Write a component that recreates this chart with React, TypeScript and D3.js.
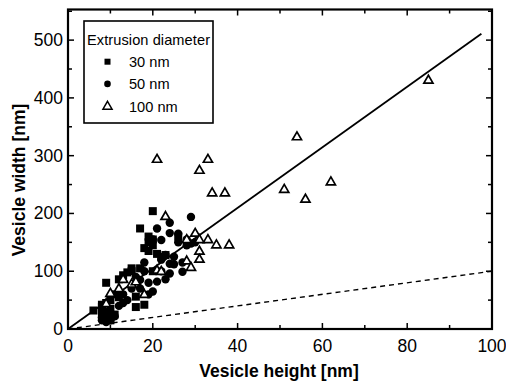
import React, { useEffect, useRef } from 'react'
import * as d3 from 'd3'

// 30 nm extrusion [height, width]
const squares30: [number, number][] = [
  [6, 32], [8, 25], [8, 38], [8, 42], [9, 20], [9, 30], [9, 45], [9, 80], [10, 35], [10, 50],
  [10, 15], [11, 25], [11, 60], [12, 86], [12, 55], [13, 93], [14, 98], [15, 100], [15, 105],
  [16, 56], [16, 38], [17, 105], [17, 174], [18, 42], [18, 140], [19, 150], [19, 135], [19, 160],
  [20, 204], [20, 145], [20, 155], [20, 100], [21, 130], [22, 125], [23, 128], [26, 160],
]

// 50 nm extrusion
const circles50: [number, number][] = [
  [8, 15], [8, 20], [9, 12], [9, 25], [10, 15], [10, 28], [11, 22], [12, 40], [13, 45], [13, 60],
  [14, 50], [15, 70], [16, 90], [17, 70], [17, 85], [18, 115], [18, 100], [19, 60], [19, 80],
  [20, 65], [20, 155], [21, 82], [21, 174], [22, 100], [22, 154], [22, 120], [23, 86], [23, 128],
  [24, 184], [24, 166], [24, 96], [24, 113], [25, 125], [25, 112], [26, 165], [26, 150], [27, 99],
  [27, 115], [28, 155], [28, 145], [29, 194], [29, 148], [30, 150],
]

// 100 nm extrusion
const triangles100: [number, number][] = [
  [9, 44], [10, 62], [12, 70], [13, 86], [15, 78], [16, 82], [18, 60], [21, 102], [22, 100],
  [23, 195], [21, 294], [28, 118], [29, 107], [28, 155], [30, 166], [31, 155], [31, 135], [31, 121],
  [33, 155], [35, 146], [38, 146], [31, 275], [33, 294], [34, 236], [37, 236], [51, 242], [54, 333],
  [56, 225], [62, 255], [85, 431],
]

const fitLine: [number, number][] = [[0, 0], [97.5, 511]]
const unityLine: [number, number][] = [[0, 0], [100, 100]]

const legendLabels = ['30 nm', '50 nm', '100 nm']

export default function App() {
  const ref = useRef<SVGSVGElement>(null)

  useEffect(() => {
    const svg = d3.select(ref.current)
    svg.selectAll('*').remove()

    const left = 68, right = 492, top = 9.5, bottom = 329
    const x = d3.scaleLinear().domain([0, 100]).range([left, right])
    const y = d3.scaleLinear().domain([0, 553]).range([bottom, top])
    const font = 'Liberation Sans, Arial, sans-serif'

    // ticks (inward on all four sides)
    const ticks = svg.append('g').attr('stroke', '#000').attr('stroke-width', 1.5)
    d3.range(10, 100, 10).forEach(v => {
      const len = v % 20 === 0 ? 6 : 4
      ticks.append('line').attr('x1', x(v)).attr('x2', x(v)).attr('y1', bottom).attr('y2', bottom - len)
      ticks.append('line').attr('x1', x(v)).attr('x2', x(v)).attr('y1', top).attr('y2', top + len)
    })
    d3.range(50, 551, 50).forEach(v => {
      const len = v % 100 === 0 ? 6 : 4
      ticks.append('line').attr('y1', y(v)).attr('y2', y(v)).attr('x1', left).attr('x2', left + len)
      ticks.append('line').attr('y1', y(v)).attr('y2', y(v)).attr('x1', right).attr('x2', right - len)
    })

    // tick labels
    const labels = svg.append('g').attr('font-family', font).attr('font-size', 17.5).attr('fill', '#000')
    d3.range(0, 101, 20).forEach(v => {
      labels.append('text').attr('x', x(v)).attr('y', bottom + 23).attr('text-anchor', 'middle').text(v)
    })
    d3.range(0, 501, 100).forEach(v => {
      labels.append('text').attr('x', left - 5).attr('y', y(v) + 6).attr('text-anchor', 'end').text(v)
    })

    // axis titles
    svg.append('text').attr('x', 279).attr('y', 377).attr('text-anchor', 'middle')
      .attr('font-family', font).attr('font-size', 17.5).attr('font-weight', 'bold').text('Vesicle height [nm]')
    svg.append('text').attr('transform', 'translate(25,180) rotate(-90)')
      .attr('text-anchor', 'middle').attr('font-family', font).attr('font-size', 17.5).attr('font-weight', 'bold')
      .text('Vesicle width [nm]')

    // lines
    const line = d3.line<[number, number]>().x(d => x(d[0])).y(d => y(d[1]))
    svg.append('path').attr('d', line(unityLine)).attr('fill', 'none').attr('stroke', '#000')
      .attr('stroke-width', 1.4).attr('stroke-dasharray', '5,4')
    svg.append('path').attr('d', line(fitLine)).attr('fill', 'none').attr('stroke', '#000').attr('stroke-width', 1.8)

    // points
    const pts = svg.append('g')
    squares30.forEach(d => {
      pts.append('rect').attr('x', x(d[0]) - 4).attr('y', y(d[1]) - 4).attr('width', 8).attr('height', 8).attr('fill', '#000')
    })
    circles50.forEach(d => {
      pts.append('circle').attr('cx', x(d[0])).attr('cy', y(d[1])).attr('r', 4.2).attr('fill', '#000')
    })
    const tri = d3.symbol().type(d3.symbolTriangle).size(36)
    triangles100.forEach(d => {
      pts.append('path').attr('d', tri()).attr('transform', `translate(${x(d[0])},${y(d[1]) + 0.5})`)
        .attr('fill', '#fff').attr('stroke', '#000').attr('stroke-width', 1.7)
    })

    // frame
    svg.append('rect').attr('x', left).attr('y', top).attr('width', right - left).attr('height', bottom - top)
      .attr('fill', 'none').attr('stroke', '#000').attr('stroke-width', 2.2)

    // legend
    const lg = svg.append('g').attr('font-family', font).attr('font-size', 14.6)
    lg.append('rect').attr('x', 84).attr('y', 21).attr('width', 129).attr('height', 102)
      .attr('fill', '#fff').attr('stroke', '#000').attr('stroke-width', 1.6)
    lg.append('text').attr('x', 87).attr('y', 45).attr('textLength', 123).text('Extrusion diameter')
    legendLabels.forEach((t, i) => {
      const cy = 61.7 + i * 22.2
      lg.append('text').attr('x', 129).attr('y', cy + 5.5).text(t)
      if (i === 0) lg.append('rect').attr('x', 104.5).attr('y', cy - 3).attr('width', 6).attr('height', 6).attr('fill', '#000')
      if (i === 1) lg.append('circle').attr('cx', 107.5).attr('cy', cy).attr('r', 3.3).attr('fill', '#000')
      if (i === 2) lg.append('path').attr('d', tri()).attr('transform', `translate(107.5,${cy + 0.5})`)
        .attr('fill', '#fff').attr('stroke', '#000').attr('stroke-width', 1.5)
    })
  }, [])

  return (
    <svg ref={ref} width={506} height={383} style={{ position: 'absolute', left: 0, top: 0, background: '#fff' }} />
  )
}
